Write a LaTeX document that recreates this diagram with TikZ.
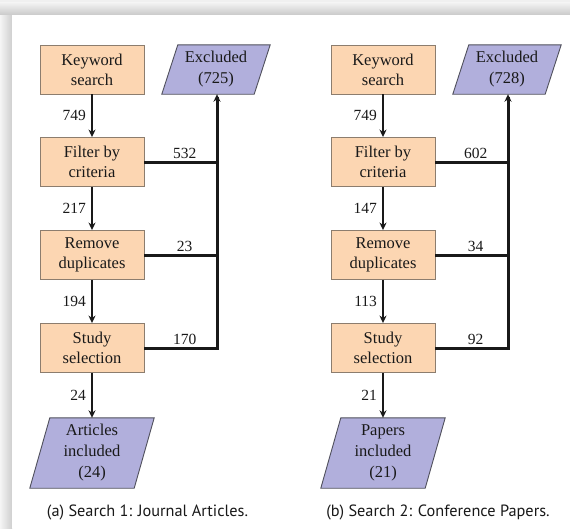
\documentclass[tikz,border=0pt]{standalone}
\usepackage{fontspec}
\setmainfont{Liberation Serif}
\newfontfamily\capfont{PT Sans}
\usetikzlibrary{calc,arrows.meta}

\definecolor{peach}{RGB}{252,214,178}
\definecolor{lilac}{RGB}{177,175,220}
\definecolor{ink}{RGB}{25,25,25}
\definecolor{rim}{RGB}{140,125,110}
\definecolor{lilacrim}{RGB}{80,80,92}

\pgfdeclarelayer{panel}
\pgfdeclarelayer{shapes}
\pgfsetlayers{panel,shapes,main}

\tikzset{
  stage/.style={draw=rim, line width=0.9pt, fill=peach, minimum width=104pt,
    minimum height=49pt, inner sep=0pt, align=center, text=ink,
    font=\fontsize{16.5}{20}\selectfont},
  outcome/.style={inner sep=0pt, align=center, text=ink,
    font=\fontsize{16.5}{21}\selectfont},
  count/.style={text=ink, font=\fontsize{15.5}{18}\selectfont, inner sep=2pt},
  tip/.style={-{Stealth[length=7.5pt,width=7pt]}},
  flow/.style={line width=2.1pt, draw=ink, tip},
  drop/.style={line width=3pt, draw=ink},
  caption/.style={font=\capfont\fontsize{16.3}{19}\selectfont, text=ink},
}

% slanted box drawn behind a named node: #1 node, #2 horizontal slant
\newcommand\slantbox[2]{%
  \begin{pgfonlayer}{shapes}
    \draw[fill=lilac, draw=lilacrim, line width=0.9pt]
      (#1.south west) -- ($(#1.north west)+(#2,0)$) -- (#1.north east)
      -- ($(#1.south east)-(#2,0)$) -- cycle;
  \end{pgfonlayer}}

\begin{document}
\begin{tikzpicture}[x=1pt,y=-1pt]
  \useasboundingbox (0,0) rectangle (570,528);
  % panel with drop shadow
  \begin{pgfonlayer}{panel}
    \fill[gray!12] (0,0) rectangle (570,528);
    \shade[top color=gray!8, bottom color=gray!42] (0,2) rectangle (570,15);
    \shade[left color=gray!8, right color=gray!38] (0,15) rectangle (12,528);
    \fill[white] (12,15) rectangle (570,528);
  \end{pgfonlayer}

  % ---- Search 1: journal articles ----
  \node[stage] (k1) at (92,69.5) {Keyword\\search};
  \node[stage] (f1) at (92,162) {Filter by\\criteria};
  \node[stage] (r1) at (92,255) {Remove\\duplicates};
  \node[stage] (s1) at (92,348) {Study\\selection};
  \node[outcome, minimum width=108pt, minimum height=49pt] (e1) at (216,69.5) {Excluded\\(725)};
  \slantbox{e1}{16}
  \node[outcome, minimum width=124pt, minimum height=70pt] (a1) at (92,453) {Articles\\included\\(24)};
  \slantbox{a1}{20}

  \draw[flow] (k1) -- node[count, left, xshift=-3pt] {749} (f1);
  \draw[flow] (f1) -- node[count, left, xshift=-3pt] {217} (r1);
  \draw[flow] (r1) -- node[count, left, xshift=-3pt] {194} (s1);
  \draw[flow] (s1) -- node[count, left, xshift=-3pt] {24} (a1);

  \coordinate (t1) at ($(e1.south)+(1,0)$);
  \draw[drop] (f1.east) -- node[count, above, xshift=4pt] {532} (f1.east -| t1);
  \draw[drop] (r1.east) -- node[count, above, xshift=4pt] {23} (r1.east -| t1);
  \draw[drop] (s1.east) -- node[count, above, xshift=4pt] {170} (s1.east -| t1);
  \draw[drop, line cap=rect, tip] (s1.east -| t1) -- (t1);

  \node[caption] (c1) at (147.5,512) {(a) Search 1: Journal Articles.};

  % ---- Search 2: conference papers ----
  \node[stage] (k2) at (383,69.5) {Keyword\\search};
  \node[stage] (f2) at (383,162) {Filter by\\criteria};
  \node[stage] (r2) at (383,255) {Remove\\duplicates};
  \node[stage] (s2) at (383,348) {Study\\selection};
  \node[outcome, minimum width=108pt, minimum height=49pt] (e2) at (507,69.5) {Excluded\\(728)};
  \slantbox{e2}{16}
  \node[outcome, minimum width=124pt, minimum height=70pt] (a2) at (383,453) {Papers\\included\\(21)};
  \slantbox{a2}{20}

  \draw[flow] (k2) -- node[count, left, xshift=-3pt] {749} (f2);
  \draw[flow] (f2) -- node[count, left, xshift=-3pt] {147} (r2);
  \draw[flow] (r2) -- node[count, left, xshift=-3pt] {113} (s2);
  \draw[flow] (s2) -- node[count, left, xshift=-3pt] {21} (a2);

  \coordinate (t2) at ($(e2.south)+(1,0)$);
  \draw[drop] (f2.east) -- node[count, above, xshift=4pt] {602} (f2.east -| t2);
  \draw[drop] (r2.east) -- node[count, above, xshift=4pt] {34} (r2.east -| t2);
  \draw[drop] (s2.east) -- node[count, above, xshift=4pt] {92} (s2.east -| t2);
  \draw[drop, line cap=rect, tip] (s2.east -| t2) -- (t2);

  \node[caption] (c2) at (438,512) {(b) Search 2: Conference Papers.};
\end{tikzpicture}
\end{document}
